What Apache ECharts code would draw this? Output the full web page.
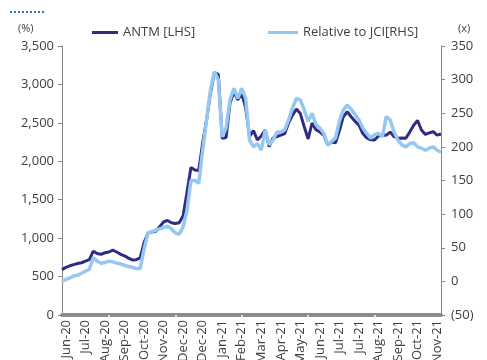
<!DOCTYPE html>
<html>
<head>
<meta charset="utf-8">
<script src="https://cdn.jsdelivr.net/npm/echarts@6/dist/echarts.min.js"></script>
<style>
  html, body { margin: 0; padding: 0; background: #ffffff; }
  #chart { width: 487px; height: 360px; }
</style>
</head>
<body>
<div id="chart"></div>
<script>
// Month tick labels shown under the time axis (one every 5 observations, from index 1)
const tickLabels = ['Jun-20', 'Jul-20', 'Aug-20', 'Sep-20', 'Oct-20', 'Nov-20', 'Dec-20', 'Dec-20',
  'Jan-21', 'Feb-21', 'Mar-21', 'Apr-21', 'May-21', 'Jun-21', 'Jul-21', 'Jul-21',
  'Aug-21', 'Sep-21', 'Oct-21', 'Nov-21'];

// ANTM share price performance, % (left axis)
const antm = [590, 620, 640, 655, 670, 680, 700, 720, 830, 800,
  790, 810, 820, 845, 820, 790, 770, 740, 716, 720,
  742, 940, 1067, 1080, 1090, 1150, 1210, 1230, 1200, 1190,
  1200, 1290, 1600, 1920, 1887, 1880, 2238, 2537, 2890, 3153,
  3130, 2300, 2310, 2758, 2900, 2800, 2880, 2700, 2320, 2400,
  2277, 2330, 2407, 2190, 2300, 2320, 2340, 2360, 2500, 2600,
  2680, 2620, 2450, 2290, 2498, 2410, 2380, 2342, 2212, 2250,
  2240, 2400, 2580, 2645, 2580, 2520, 2470, 2360, 2303, 2280,
  2277, 2330, 2342, 2340, 2380, 2320, 2300, 2303, 2300, 2380,
  2470, 2530, 2407, 2350, 2370, 2385, 2340, 2355];

// ANTM relative to the JCI, x (right axis)
const relJci = [0, 3, 5, 8, 9, 12, 15, 18, 35, 30,
  27, 28, 30, 29, 27, 26, 24, 22, 21, 19,
  19, 48, 72, 74, 76, 78, 80, 82, 78, 72,
  70, 81, 106, 150, 150, 146, 195, 240, 285, 312,
  300, 215, 228, 270, 287, 272, 287, 272, 210, 200,
  205, 195, 225, 203, 210, 222, 222, 225, 240, 258,
  272, 270, 255, 238, 250, 233, 228, 220, 203, 208,
  213, 238, 255, 262, 256, 248, 240, 228, 220, 213,
  218, 220, 215, 245, 240, 222, 210, 203, 200, 205,
  206, 200, 198, 195, 198, 200, 195, 192];

// Left and right axis ranges
const leftAxis = { min: 0, max: 3500, step: 500 };
const rightAxis = { min: -50, max: 350, step: 50 };

const categories = antm.map((_, i) => String(i));
const labelAt = (i) => ((i - 1) % 5 === 0 && i >= 1) ? tickLabels[(i - 1) / 5] : '';
// Separators that break the heavy baseline
const sepIdx = [12, 29, 46, 63, 80];

const textColor = '#404040';
const axisGrey = '#878787';
const font = '"Open Sans", sans-serif';

const chart = echarts.init(document.getElementById('chart'), null, { renderer: 'canvas' });

chart.setOption({
  animation: false,
  backgroundColor: '#ffffff',
  textStyle: { fontFamily: font },
  grid: { left: 62, right: 46, top: 46, bottom: 45, containLabel: false, outerBoundsMode: 'none' },
  legend: [
    {
      data: ['ANTM [LHS]'],
      left: 87, top: 21,
      icon: 'rect', itemWidth: 26, itemHeight: 3,
      textStyle: { color: textColor, fontSize: 13, fontFamily: font }
    },
    {
      data: ['Relative to JCI[RHS]'],
      left: 263, top: 21,
      icon: 'rect', itemWidth: 30, itemHeight: 3,
      textStyle: { color: textColor, fontSize: 13, fontFamily: font }
    }
  ],
  graphic: [
    { type: 'text', left: 18, top: 23, style: { text: '(%)', fill: textColor, font: '11px ' + font } },
    { type: 'text', left: 458, top: 23, style: { text: '(x)', fill: textColor, font: '11px ' + font } },
    { type: 'line', shape: { x1: 10, y1: 12, x2: 46, y2: 12 },
      style: { stroke: '#3b6fd6', lineWidth: 2, lineDash: [2, 2] } }
  ],
  xAxis: [
    {
      type: 'category',
      data: categories,
      boundaryGap: false,
      axisLine: { show: true, lineStyle: { color: '#8c8c8c', width: 4 } },
      axisTick: {
        show: true, inside: false, length: 2,
        interval: (i) => sepIdx.indexOf(i) >= 0,
        lineStyle: { color: '#ffffff', width: 1.5 }
      },
      axisLabel: {
        interval: 0,
        rotate: 90,
        margin: 5,
        color: textColor,
        fontSize: 13,
        fontFamily: font,
        formatter: (v, i) => labelAt(i)
      },
      splitLine: { show: false }
    },
    {
      type: 'category',
      data: categories,
      boundaryGap: false,
      position: 'bottom',
      axisLine: { show: false },
      axisTick: {
        show: true, inside: true, length: 2,
        interval: (i) => sepIdx.indexOf(i) >= 0,
        lineStyle: { color: '#ffffff', width: 1.5 }
      },
      axisLabel: { show: false },
      splitLine: { show: false }
    }
  ],
  yAxis: [
    {
      type: 'value',
      position: 'left',
      min: leftAxis.min, max: leftAxis.max, interval: leftAxis.step,
      axisLine: { show: true, lineStyle: { color: axisGrey, width: 1 } },
      axisTick: { show: true, length: 4, lineStyle: { color: axisGrey } },
      axisLabel: {
        color: textColor, fontSize: 13, fontFamily: font, margin: 8,
        formatter: (v) => v.toLocaleString('en-US')
      },
      splitLine: { show: false }
    },
    {
      type: 'value',
      position: 'right',
      min: rightAxis.min, max: rightAxis.max, interval: rightAxis.step,
      axisLine: { show: true, lineStyle: { color: axisGrey, width: 1 } },
      axisTick: { show: true, length: 4, lineStyle: { color: axisGrey } },
      axisLabel: {
        color: textColor, fontSize: 13, fontFamily: font, margin: 10,
        formatter: (v) => v < 0 ? '(' + Math.abs(v) + ')' : String(v)
      },
      splitLine: { show: false }
    }
  ],
  series: [
    {
      name: 'ANTM [LHS]',
      type: 'line',
      xAxisIndex: 0,
      yAxisIndex: 0,
      data: antm,
      showSymbol: false,
      color: '#2e2d82',
      lineStyle: { color: '#2e2d82', width: 3 },
      z: 2
    },
    {
      name: 'Relative to JCI[RHS]',
      type: 'line',
      xAxisIndex: 0,
      yAxisIndex: 1,
      data: relJci,
      showSymbol: false,
      color: '#95c7ef',
      lineStyle: { color: '#95c7ef', width: 3.5 },
      z: 3
    }
  ]
});
</script>
</body>
</html>
